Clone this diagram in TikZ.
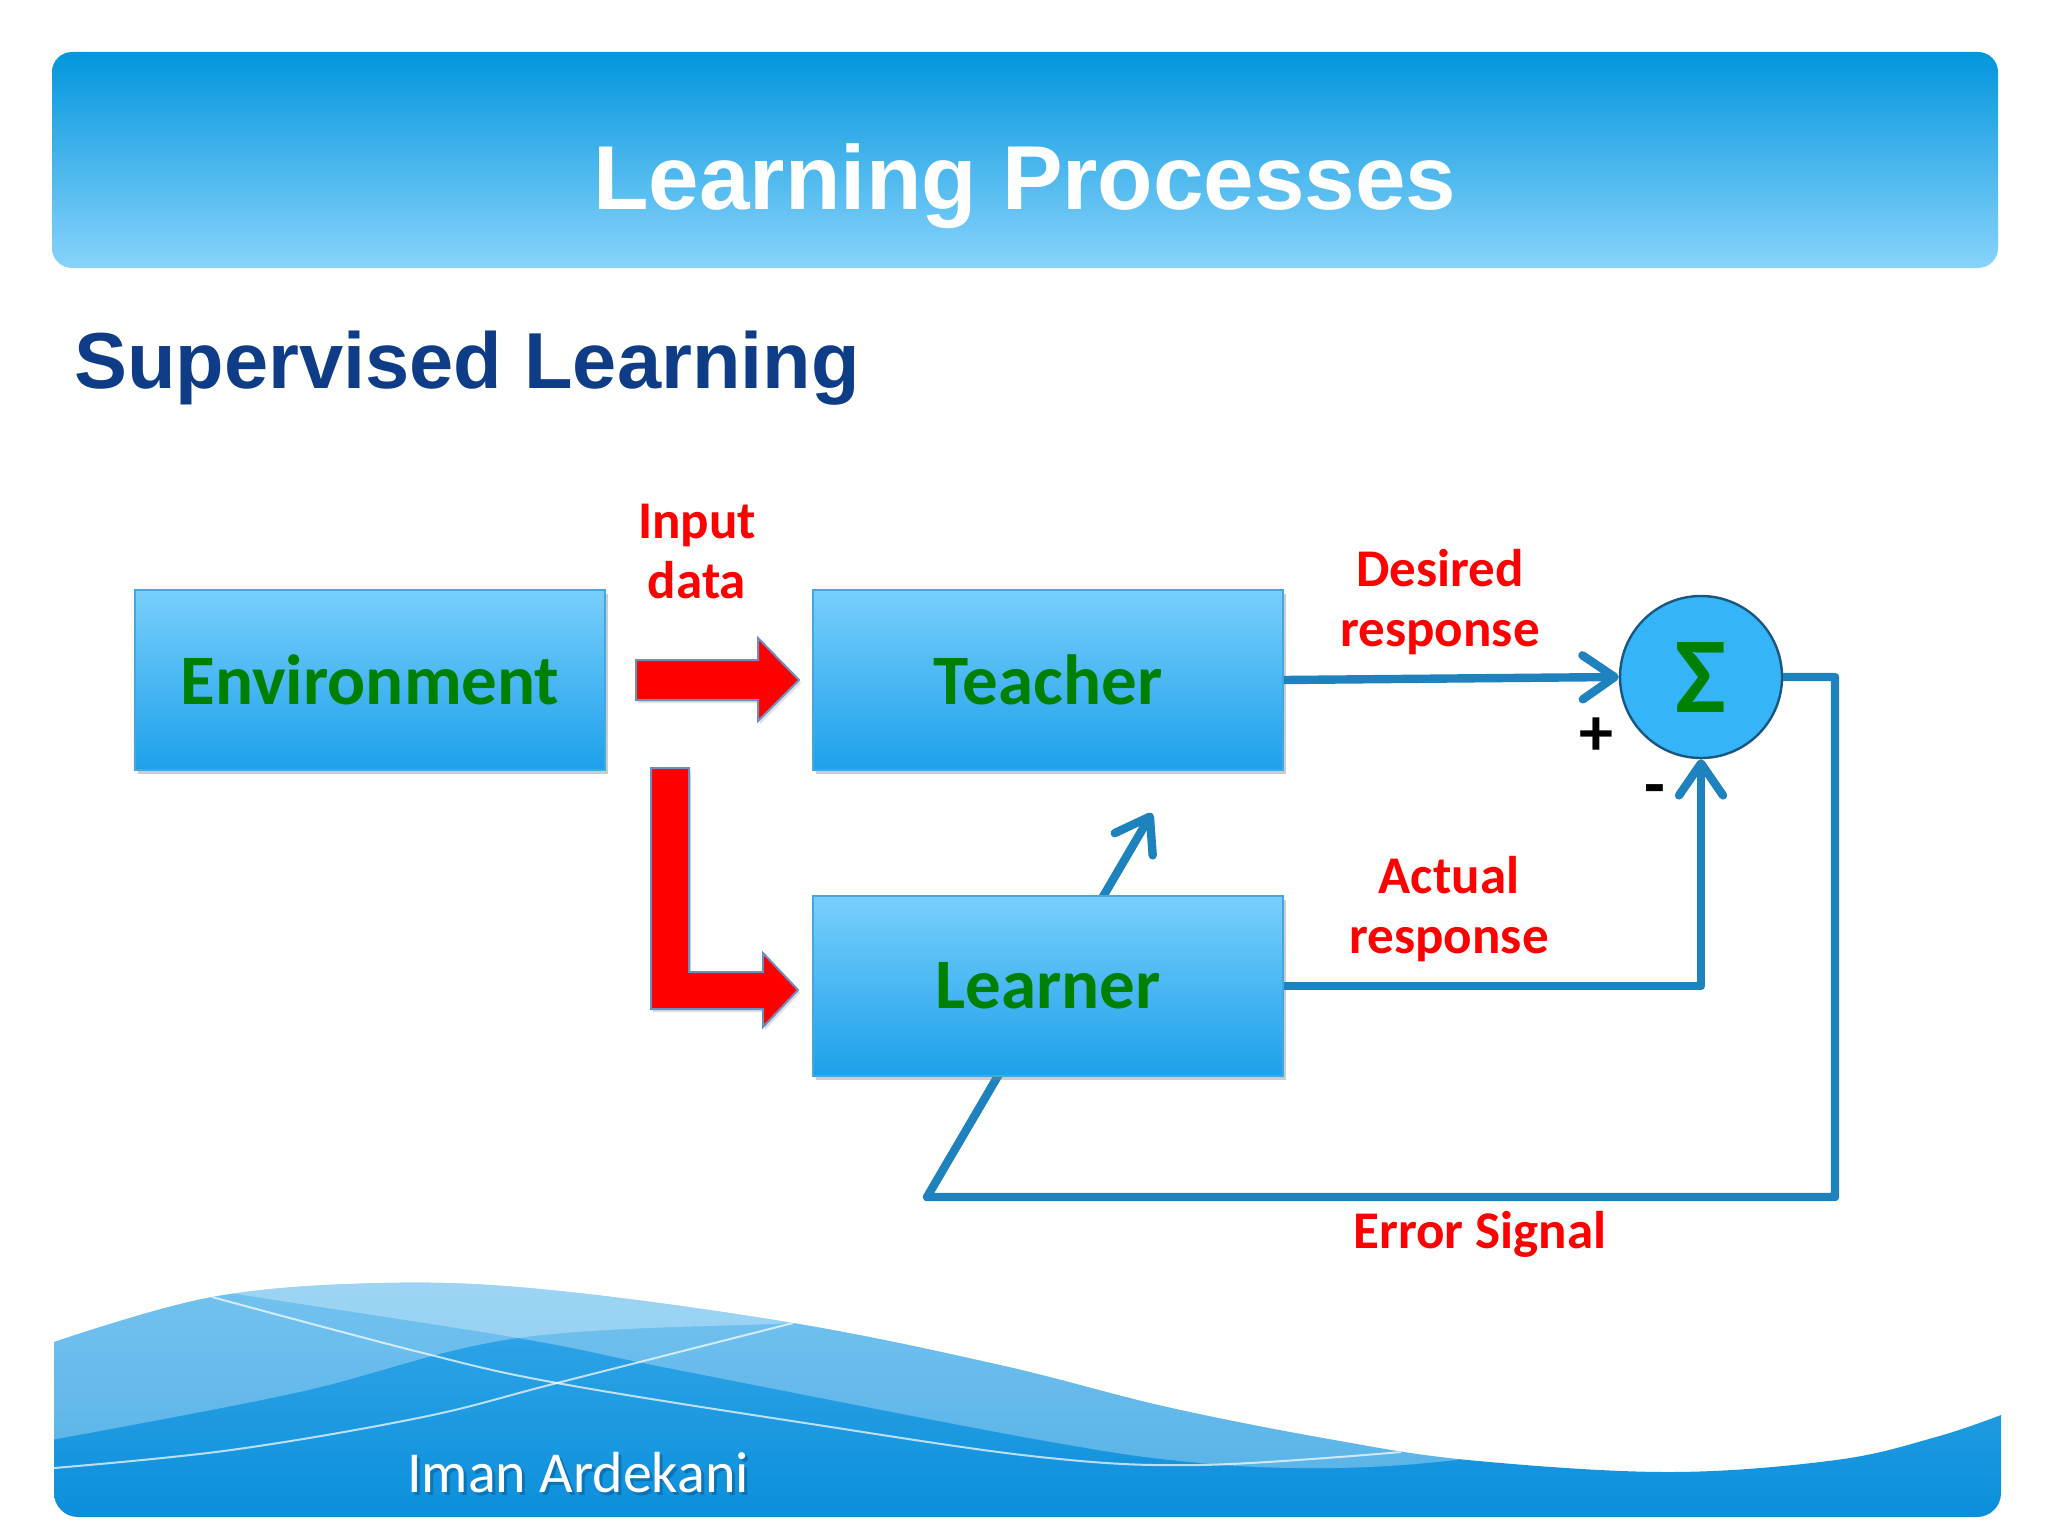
\documentclass[tikz,border=0pt]{standalone}
\usepackage{fontspec}
\setmainfont{Carlito}
\newfontfamily\headfont{Liberation Sans}
\usetikzlibrary{arrows.meta,shadows}
\definecolor{hdtop}{HTML}{0396DD}
\definecolor{hdbot}{HTML}{88D3FB}
\definecolor{subblue}{HTML}{0E3C87}
\definecolor{boxtop}{HTML}{78CFFC}
\definecolor{boxbot}{HTML}{1DA0EA}
\definecolor{boxline}{HTML}{46A6DE}
\definecolor{txtgreen}{HTML}{008000}
\definecolor{linkblue}{HTML}{1E82BE}
\definecolor{sumfill}{HTML}{35B5F7}
\definecolor{sumline}{HTML}{1A5780}
\definecolor{arrowline}{HTML}{6C8EBF}
\definecolor{wavetop}{HTML}{3AAAEA}
\definecolor{wavebot}{HTML}{0B8FDB}
\definecolor{authshadow}{HTML}{0B5E9C}
\tikzset{
	block/.style={rectangle,draw=boxline,line width=0.8pt,top color=boxtop,bottom color=boxbot,minimum width=235pt,minimum height=90pt,text=txtgreen,font=\bfseries\fontsize{35.5}{40}\selectfont,drop shadow={shadow xshift=1.5pt,shadow yshift=-2pt,opacity=.4}},
	sumnode/.style={circle,draw=sumline,line width=1.2pt,fill=sumfill,minimum size=81pt,inner sep=0pt,text=txtgreen,font=\bfseries\fontsize{54}{60}\selectfont},
	conn/.style={draw=linkblue,line width=4.2pt,line join=round},
	tipped/.style={-{Straight Barb[length=16pt,width=22pt,round]}},
	bigarrow/.style={fill=red,draw=arrowline,line width=1pt,drop shadow={shadow xshift=1pt,shadow yshift=-1.5pt,opacity=.25}},
	lbl/.style={text=red,align=center,font=\bfseries\fontsize{26.5}{30}\selectfont},
	sign/.style={text=black,font=\bfseries\fontsize{34}{40}\selectfont}
}
\begin{document}
\begin{tikzpicture}[x=0.5pt,y=-0.5pt]
	\useasboundingbox (0,0) rectangle (2048,1536);
	\fill[white] (0,0) rectangle (2048,1536);
	\shade[rounded corners=10pt,top color=hdtop,bottom color=hdbot] (52,52) rectangle (1998,268);
	\node[text=white,anchor=base,font=\headfont\bfseries\fontsize{45.4}{55}\selectfont] (title) at (1025,209) {Learning Processes};
	\node[text=subblue,anchor=base west,inner sep=0pt,font=\headfont\bfseries\fontsize{39.7}{47}\selectfont] (subtitle) at (74,388) {Supervised Learning};
	\begin{scope}
		\clip[rounded corners=12pt] (54,1250) rectangle (2001,1517);
		\clip plot[smooth,tension=.6] coordinates {(54,1342) (212,1297) (384,1283) (550,1290) (793,1323) (1000,1365) (1167,1407) (1334,1440) (1468,1460) (1668,1472) (1836,1460) (1936,1437) (2001,1415)} -- (2001,1536) -- (54,1536) -- cycle;
		\shade[top color=wavetop,bottom color=wavebot] (54,1270) rectangle (2001,1517);
		\fill[white,opacity=.3] plot[smooth,tension=.6] coordinates {(40,1442) (295,1393) (518,1338) (793,1323) (860,1318)} -- (860,1250) -- (40,1250) -- cycle;
		\fill[white,opacity=.3] plot[smooth,tension=.6] coordinates {(200,1285) (231,1293) (518,1338) (678,1370) (1040,1440) (1200,1463) (1334,1468) (1455,1460) (1520,1445)} -- (1520,1250) -- (200,1250) -- cycle;
		\draw[white,opacity=.7,line width=1pt] plot[smooth,tension=.6] coordinates {(212,1297) (423,1353) (557,1383) (805,1423) (1040,1457) (1200,1465) (1401,1452)};
		\draw[white,opacity=.7,line width=1pt] plot[smooth,tension=.6] coordinates {(54,1468) (231,1450) (423,1417) (557,1383) (793,1323)};
	\end{scope}
	\node[text=authshadow,opacity=.6,anchor=base,font=\fontsize{29}{34}\selectfont] (authorshadow) at (581,1495) {Iman Ardekani};
	\node[text=white,anchor=base,font=\fontsize{29}{34}\selectfont] (author) at (578,1492) {Iman Ardekani};
	\node[block] (environment) at (370,680) {Environment};
	\node[block] (teacher) at (1048,680) {Teacher};
	\node[sumnode] (sigma) at (1701,677) {Σ};
	\coordinate (errright) at (1835,1197);
	\coordinate (errcorner) at (927,1197);
	\coordinate (errtip) at (1152,813);
	\draw[conn,tipped] (sigma.east) -| (errright) -- (errcorner) -- (errtip);
	\node[block] (learner) at (1048,986) {Learner};
	\draw[bigarrow] (636,660) -- (758,660) -- (758,638) -- (799,680) -- (758,721) -- (758,700) -- (636,700) -- cycle;
	\draw[bigarrow] (651,768) -- (689,768) -- (689,972) -- (763,972) -- (763,953) -- (798,990) -- (763,1027) -- (763,1009) -- (651,1009) -- cycle;
	\draw[conn,tipped] (teacher.east) -- (sigma.west);
	\draw[conn,tipped] (learner.east) -| (sigma.south);
	\node[lbl] (inputlbl) at (697,552) {Input\\data};
	\node[lbl] (desiredlbl) at (1440,602) {Desired\\response};
	\node[lbl] (actuallbl) at (1449,909) {Actual\\response};
	\node[lbl,anchor=base] (errorlbl) at (1480,1248) {Error Signal};
	\node[sign] (plus) at (1596,737) {+};
	\node[sign] (minus) at (1655,796) {-};
\end{tikzpicture}
\end{document}
